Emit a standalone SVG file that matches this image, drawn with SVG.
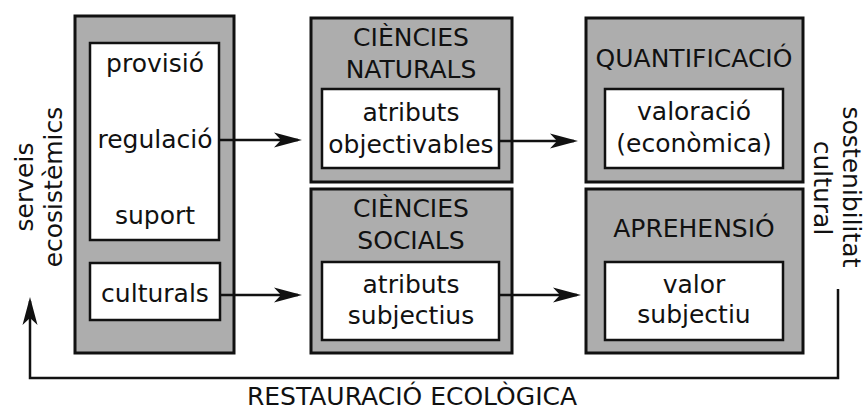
<svg xmlns="http://www.w3.org/2000/svg" width="865" height="412" viewBox="0 0 865 412">
<style>
  text { font-family: "DejaVu Sans", "Liberation Sans", sans-serif; font-size: 25px; fill: #111; text-anchor: middle; }
  .outer { fill: #adadad; stroke: #111; stroke-width: 3; }
  .inner { fill: #ffffff; stroke: #111; stroke-width: 2.5; }
  .conn { fill: none; stroke: #111; stroke-width: 2.5; }
</style>
<defs>
  <marker id="ah" markerUnits="userSpaceOnUse" markerWidth="32" markerHeight="18" viewBox="-28 -9 32 18" refX="-4" refY="0" orient="auto">
    <path d="M0,0 L-28,-7.5 L-21,0 L-28,7.5 Z" fill="#111"/>
  </marker>
</defs>
<rect width="865" height="412" fill="#ffffff"/>

<g id="servei-ecosistemic">
  <rect class="outer" x="75" y="16" width="159" height="337"/>
  <rect class="inner" x="90" y="43" width="129" height="197"/>
  <text x="155" y="72">provisió</text>
  <text x="155" y="148">regulació</text>
  <text x="155" y="224">suport</text>
  <rect class="inner" x="90" y="263" width="130" height="57"/>
  <text x="155" y="302">culturals</text>
</g>

<g id="ciencies-naturals">
  <rect class="outer" x="311" y="18" width="201" height="164"/>
  <text x="411" y="46">CIÈNCIES</text>
  <text x="411" y="78">NATURALS</text>
  <rect class="inner" x="322" y="89" width="177" height="79"/>
  <text x="411" y="121">atributs</text>
  <text x="411" y="153">objectivables</text>
</g>

<g id="ciencies-socials">
  <rect class="outer" x="311" y="189" width="201" height="164"/>
  <text x="411" y="217">CIÈNCIES</text>
  <text x="411" y="249">SOCIALS</text>
  <rect class="inner" x="322" y="262" width="177" height="78"/>
  <text x="411" y="293">atributs</text>
  <text x="411" y="324">subjectius</text>
</g>

<g id="quantificacio">
  <rect class="outer" x="586" y="18" width="217" height="164"/>
  <text x="694" y="67">QUANTIFICACIÓ</text>
  <rect class="inner" x="605" y="89" width="178" height="79"/>
  <text x="694" y="120">valoració</text>
  <text x="694" y="152">(econòmica)</text>
</g>

<g id="aprehensio">
  <rect class="outer" x="586" y="189" width="217" height="164"/>
  <text x="694" y="237">APREHENSIÓ</text>
  <rect class="inner" x="605" y="262" width="178" height="78"/>
  <text x="694" y="293">valor</text>
  <text x="694" y="323">subjectiu</text>
</g>

<g id="connectors">
  <path class="conn" d="M220,140 H298" marker-end="url(#ah)"/>
  <path class="conn" d="M220,295 H298" marker-end="url(#ah)"/>
  <path class="conn" d="M499,141 H574" marker-end="url(#ah)"/>
  <path class="conn" d="M499,295 H577" marker-end="url(#ah)"/>
  <path class="conn" d="M838,289 V378 H30 V301" marker-end="url(#ah)"/>
</g>

<g id="labels">
  <text transform="translate(33,187) rotate(-90)">serveis</text>
  <text transform="translate(62,187) rotate(-90)">ecosistèmics</text>
  <text transform="translate(843,187) rotate(90)">sostenibilitat</text>
  <text transform="translate(814,188) rotate(90)">cultural</text>
  <text x="412" y="405">RESTAURACIÓ ECOLÒGICA</text>
</g>
</svg>
